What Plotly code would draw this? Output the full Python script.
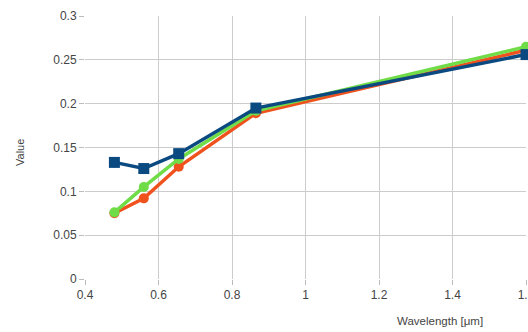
import plotly.graph_objects as go

wavelength = [0.48, 0.56, 0.655, 0.865, 1.6]
series_blue = [0.133, 0.126, 0.143, 0.195, 0.256]
series_green = [0.076, 0.105, 0.137, 0.192, 0.265]
series_orange = [0.075, 0.092, 0.128, 0.189, 0.261]

x_ticks = [0.4, 0.6, 0.8, 1.0, 1.2, 1.4, 1.6]
x_tick_labels = ["0.4", "0.6", "0.8", "1", "1.2", "1.4", "1.6"]
y_ticks = [0, 0.05, 0.1, 0.15, 0.2, 0.25, 0.3]
y_tick_labels = ["0", "0.05", "0.1", "0.15", "0.2", "0.25", "0.3"]

L, R, T, B = 85, 2, 16, 53
W, H = 528, 332
pw = W - L - R
ph = H - T - B

fig = go.Figure()
fig.add_trace(go.Scatter(x=wavelength, y=series_orange, mode="lines+markers",
                         line=dict(color="#f0521e", width=3.5),
                         marker=dict(symbol="circle", size=10, color="#f0521e"),
                         cliponaxis=False))
fig.add_trace(go.Scatter(x=wavelength, y=series_green, mode="lines+markers",
                         line=dict(color="#6fdc48", width=3.5),
                         marker=dict(symbol="circle", size=10, color="#6fdc48"),
                         cliponaxis=False))
fig.add_trace(go.Scatter(x=wavelength, y=series_blue, mode="lines+markers",
                         line=dict(color="#0b4a80", width=3.5),
                         marker=dict(symbol="square", size=11, color="#0b4a80"),
                         cliponaxis=False))

fig.update_layout(
    width=W, height=H,
    margin=dict(l=L, r=R, t=T, b=B, autoexpand=False),
    paper_bgcolor="white", plot_bgcolor="white",
    showlegend=False,
    font=dict(family="Liberation Sans, Arial, sans-serif", size=12, color="#444444"),
    xaxis=dict(range=[0.4, 1.6], tickvals=x_ticks, ticktext=x_tick_labels,
               showgrid=True, gridcolor="#cccccc", gridwidth=1,
               ticks="outside", ticklen=5, tickcolor="#bbbbbb",
               zeroline=False, showline=False, automargin=False,
               ticklabeloverflow="allow"),
    yaxis=dict(range=[0, 0.3], tickvals=y_ticks, ticktext=y_tick_labels,
               showgrid=True, gridcolor="#cccccc", gridwidth=1,
               ticks="outside", ticklen=5, tickcolor="#bbbbbb",
               zeroline=False, showline=False, automargin=False),
    annotations=[
        dict(text="Wavelength [μm]", x=(440 - L) / pw, y=(H - B - 321) / ph,
             xref="paper", yref="paper", xanchor="center", yanchor="middle",
             showarrow=False, font=dict(size=11.5, color="#444444")),
        dict(text="Value", x=(20 - L) / pw, y=(H - B - 153) / ph,
             xref="paper", yref="paper", xanchor="center", yanchor="middle",
             showarrow=False, textangle=-90,
             font=dict(size=11, color="#444444")),
    ],
)

fig.write_html("out.html", config={"displayModeBar": False},
               post_script="document.body.style.margin='0';document.body.style.overflow='hidden';")
